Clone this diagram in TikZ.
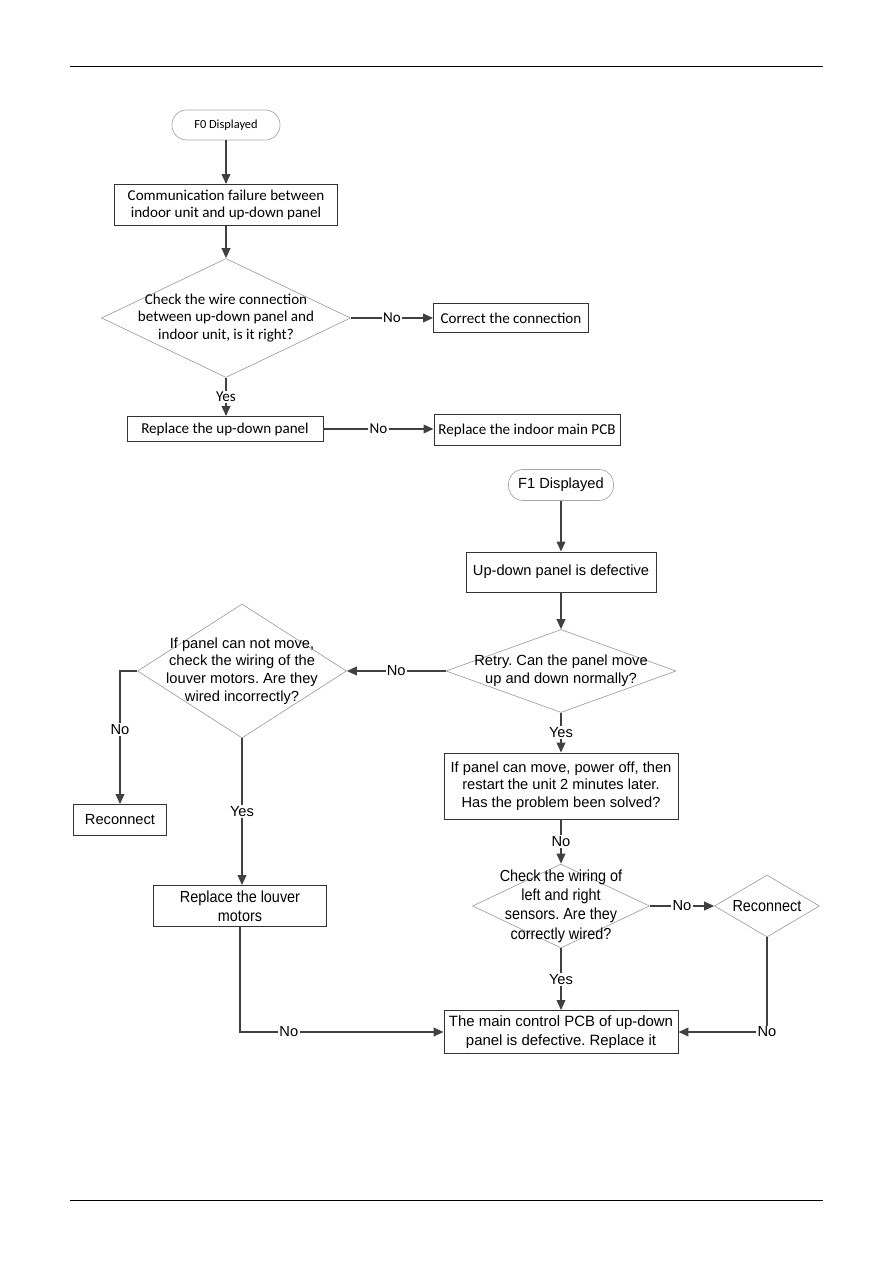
\documentclass[tikz,border=0pt]{standalone}
\usepackage{fontspec}
\setmainfont{Liberation Sans}
\newfontfamily\calf{Carlito}
\newfontfamily\narrowf{Liberation Sans}[FakeStretch=0.9]
\usetikzlibrary{shapes.geometric,arrows.meta}
\definecolor{linec}{HTML}{404040}
\frenchspacing
\begin{document}
\begin{tikzpicture}[x=0.75pt,y=-0.75pt,
  conn/.style={draw=linec, line width=1.2pt},
  arr/.style={conn, -{Triangle[length=7.5pt,width=6.5pt]}},
  bx/.style 2 args={draw=black!80, line width=0.7pt, minimum width=#1*0.75pt, minimum height=#2*0.75pt, inner sep=0pt, align=center},
  term/.style 2 args={draw=gray!70, line width=0.5pt, rounded corners=11pt, minimum width=#1*0.75pt, minimum height=#2*0.75pt, inner sep=0pt},
  dia/.style 2 args={shape=diamond, draw=gray!75, line width=0.5pt, minimum width=#1*0.75pt, minimum height=#2*0.75pt, inner sep=0pt},
  tf/.style={font=\calf\fontsize{11.3}{13.3}\selectfont},
  bf/.style={font=\fontsize{11}{13.3}\selectfont},
  nf/.style={font=\narrowf\fontsize{12}{14.5}\selectfont},
  lab/.style={fill=white, inner sep=1pt},
  dtext/.style={align=center, inner sep=0pt}
]
\useasboundingbox (0,0) rectangle (893,1263);
% page rules
\draw[line width=0.6pt] (70,66) -- (823,66);
\draw[line width=0.6pt] (70,1200) -- (823,1200);

% ---------------- F0 ----------------
\node[term={108}{30}, font=\calf\fontsize{9.3}{11}\selectfont] (f0) at (226,125) {F0\ Displayed};
\node[bx={223}{41}, tf] (comm) at (226,205) {Communication failure between\\indoor unit and up-down panel};
\node[dia={249}{119}, label={[dtext,tf]center:Check the wire connection\\between up-down panel and\\indoor unit, is it right?}] (d0) at (226,318) {};
\node[bx={155}{29}, tf] (corr) at (511,318) {Correct the connection};
\node[bx={196}{25}, tf] (rpanel) at (225,429) {Replace the up-down panel};
\node[bx={186}{31}, tf] (rpcb) at (527,430) {Replace the indoor main PCB};

\draw[arr] (f0) -- (comm);
\draw[arr] (comm) -- (d0);
\draw[arr] (d0.east) -- node[lab,tf]{No} (corr.west);
\draw[arr] (d0.south) -- node[lab,tf]{Yes} (rpanel.north -| d0.south);
\draw[arr] (rpanel.east) -- node[lab,tf]{No} (rpcb.west |- rpanel.east);

% ---------------- F1 ----------------
\node[term={105}{31}, bf] (f1) at (561,485) {F1 Displayed};
\node[bx={190}{40}, bf] (udp) at (561,572) {Up-down panel is defective};
\node[dia={230}{83}, label={[dtext,bf]center:Retry. Can the panel move\\up and down normally?}] (retry) at (561,671) {};
\node[dia={209}{134}, label={[dtext,bf]center:If panel can not move,\\check the wiring of the\\louver motors. Are they\\wired incorrectly?}] (lm) at (242,671) {};
\node[bx={93}{31}, bf] (rc1) at (120,820) {Reconnect};
\node[bx={173}{41}, nf] (louver) at (240,906) {Replace the louver\\motors};
\node[bx={234}{66}, bf] (restart) at (561,786) {If panel can move, power off, then\\restart the unit 2 minutes later.\\Has the problem been solved?};
\node[dia={177}{84}, label={[dtext,nf]center:Check the wiring of\\left and right\\sensors. Are they\\correctly wired?}] (chk) at (561,906) {};
\node[dia={105}{62}, label={[dtext,nf]center:Reconnect}] (rc2) at (767,906) {};
\node[bx={234}{43}, font=\fontsize{11.2}{14.2}\selectfont] (pcb) at (561,1032) {The main control PCB of up-down\\panel is defective. Replace it};

\draw[arr] (f1) -- (udp);
\draw[arr] (udp) -- (retry);
\draw[arr] (retry.west) -- node[lab,bf]{No} (lm.east);
\draw[arr] (retry.south) -- node[lab,bf]{Yes} (restart.north);
\draw[arr] (lm.west) -| node[lab,bf,pos=0.72]{No} (rc1.north);
\draw[arr] (lm.south) -- node[lab,bf]{Yes} (louver.north -| lm.south);
\draw[arr] (restart.south) -- node[lab,bf]{No} (chk.north);
\draw[arr] (chk.east) -- node[lab,bf]{No} (rc2.west);
\draw[arr] (chk.south) -- node[lab,bf]{Yes} (pcb.north);
\draw[arr] (louver.south) |- node[lab,bf,pos=0.62]{No} (pcb.west);
\draw[arr] (rc2.south) |- node[lab,bf,pos=0.5]{No} (pcb.east);
\end{tikzpicture}
\end{document}
